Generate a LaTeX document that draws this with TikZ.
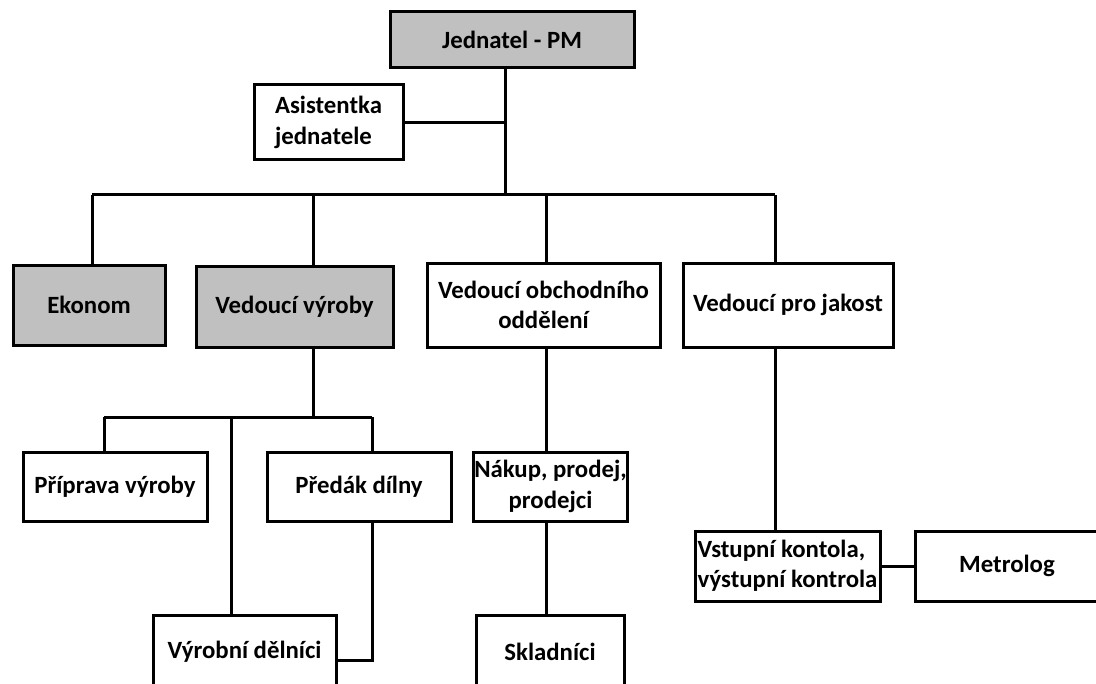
\documentclass[tikz,border=0pt]{standalone}
\usepackage{fontspec}
\setmainfont{Carlito}
\definecolor{boxgray}{RGB}{192,192,192}
\usetikzlibrary{positioning, calc}

\begin{document}
\begin{tikzpicture}[x=0.5pt, y=-0.5pt,
  every node/.style={font=\fontsize{12.4}{15.2}\selectfont\bfseries},
  box/.style={draw, line width=1.5pt, align=center, inner sep=2pt, fill=white},
  grey/.style={box, fill=boxgray},
  link/.style={line width=1.5pt}]
  \useasboundingbox (0,0) rectangle (1096,684);

  % Top level
  \node[grey, minimum width=122pt, minimum height=28pt] (jed) at (512,40) {Jednatel - PM};
  \node[box, align=left, minimum width=74.5pt, minimum height=37.5pt] (asi) at (328.5,122.5) {Asistentka\\jednatele};

  % Second level
  \node[grey, minimum width=76pt, minimum height=40pt] (eko) at (89,305) {Ekonom};
  \node[grey, minimum width=98.5pt, minimum height=40.5pt] (vyr) at (294.5,306.5) {Vedoucí výroby};
  \node[box, minimum width=116.5pt, minimum height=42pt] (obch) at (543.5,305) {Vedoucí obchodního\\oddělení};
  \node[box, minimum width=105pt, minimum height=42pt] (jak) at (788,305) {Vedoucí pro jakost};

  % Third level
  \node[box, minimum width=92pt, minimum height=34.5pt] (prip) at (115,486.5) {Příprava výroby};
  \node[box, minimum width=92pt, minimum height=34.5pt] (pred) at (359,486.5) {Předák dílny};
  \node[box, inner xsep=0.5pt, minimum width=73.5pt, minimum height=34.5pt] (nak) at (550.5,486.5) {Nákup, prodej,\\prodejci};
  \node[box, align=left, inner xsep=0.5pt, minimum width=92.5pt, minimum height=35pt] (vst) at (787.5,566) {Vstupní kontola,\\výstupní kontrola};
  \node[box, minimum width=92pt, minimum height=35pt] (met) at (1007,566) {Metrolog};
  \node[box, minimum width=91.5pt, minimum height=37pt] (del) at (244.5,652) {Výrobní dělníci};
  \node[box, minimum width=74pt, minimum height=37pt] (skl) at (550,652) {Skladníci};

  % Bus points
  \coordinate (top) at (505,195);
  \coordinate (b1) at (92,195);
  \coordinate (b2) at (313,195);
  \coordinate (b3) at (546,195);
  \coordinate (b4) at (775,195);
  \coordinate (v1) at (104,417);
  \coordinate (v2) at (231,417);
  \coordinate (v3) at (372,417);
  \coordinate (v0) at (313,417);
  \coordinate (pd) at (372,660);

  % Connectors
  \draw[link] (jed.south -| top) -- (top);
  \draw[link] (asi.east) -- (asi.east -| top);
  \draw[link] (b1) -- (b4);
  \draw[link] (b1) -- (b1 |- eko.north);
  \draw[link] (b2) -- (b2 |- vyr.north);
  \draw[link] (b3) -- (b3 |- obch.north);
  \draw[link] (b4) -- (b4 |- jak.north);

  \draw[link] (vyr.south -| v0) -- (v0);
  \draw[link] (v1) -- (v3);
  \draw[link] (v1) -- (v1 |- prip.north);
  \draw[link] (v3) -- (v3 |- pred.north);
  \draw[link] (v2) -- (v2 |- del.north);
  \draw[link] (pred.south -| pd) -- (pd) -- (pd -| del.east);

  \draw[link] (obch.south -| b3) -- (b3 |- nak.north);
  \draw[link] (nak.south -| b3) -- (b3 |- skl.north);

  \draw[link] (jak.south -| b4) -- (b4 |- vst.north);
  \draw[link] (vst.east) -- (met.west);
\end{tikzpicture}
\end{document}
